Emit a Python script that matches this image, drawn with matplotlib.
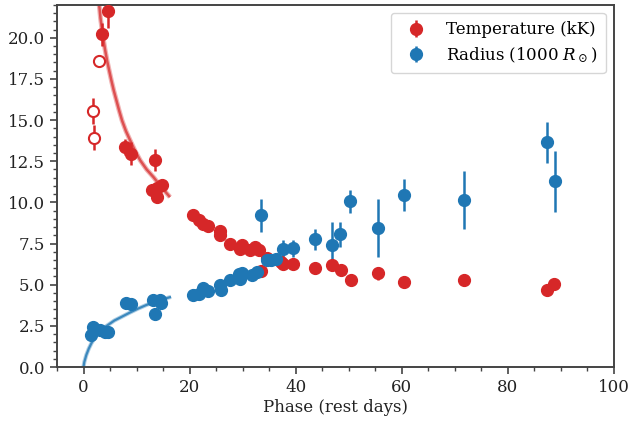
import matplotlib
matplotlib.use("Agg")
import matplotlib.pyplot as plt
from matplotlib.ticker import MultipleLocator, FormatStrFormatter

plt.rcParams['font.family'] = ['DejaVu Serif']
plt.rcParams['mathtext.fontset'] = 'dejavuserif'

RED = '#d62728'
BLUE = '#1f77b4'

# Temperature (kK), filled points
temp_t = [3.5, 4.6, 7.9, 8.9, 13.4, 13.0, 13.9, 13.85, 14.8, 20.6, 21.7, 22.6, 23.5,
          25.7, 25.8, 27.6, 29.5, 29.8, 31.4, 32.3, 33.1, 33.5, 34.6, 37.3, 37.6, 39.5,
          43.6, 46.9, 48.6, 50.5, 55.6, 60.4, 71.8, 87.4, 88.7]
temp_v = [20.2, 21.6, 13.35, 12.95, 12.55, 10.77, 10.85, 10.32, 11.03, 9.21, 8.95, 8.67, 8.55,
          8.26, 8.03, 7.45, 7.19, 7.39, 7.13, 7.29, 7.13, 5.82, 6.6, 6.38, 6.25, 6.24,
          6.04, 6.18, 5.92, 5.27, 5.68, 5.19, 5.27, 4.67, 5.03]
temp_e = [0.7, 1.0, 0.5, 0.7, 0.67, 0.15, 0.15, 0.15, 0.15, 0.15, 0.15, 0.15, 0.15,
          0.15, 0.15, 0.15, 0.15, 0.35, 0.15, 0.3, 0.15, 0.15, 0.15, 0.15, 0.15, 0.15,
          0.15, 0.35, 0.15, 0.15, 0.4, 0.15, 0.3, 0.15, 0.15]

# Temperature, open points
temp_open_t = [1.75, 1.97, 3.0]
temp_open_v = [15.56, 13.94, 18.59]
temp_open_e = [0.8, 0.75, 0.2]

# Radius (1000 Rsun)
rad_t = [1.5, 1.85, 3.1, 4.0, 4.6, 8.0, 9.0, 13.1, 13.4, 14.4, 14.7, 20.7, 21.7, 22.6, 23.5,
         25.7, 26.0, 27.6, 29.4, 29.5, 29.8, 31.7, 32.7, 33.4, 34.5, 35.4, 36.3, 37.6, 39.5,
         43.6, 46.9, 48.4, 50.3, 55.5, 60.4, 71.8, 87.4, 88.8]
rad_v = [1.94, 2.44, 2.24, 2.14, 2.14, 3.88, 3.84, 4.08, 3.22, 4.1, 3.9, 4.36, 4.42, 4.77, 4.62,
         4.97, 4.7, 5.27, 5.67, 5.35, 5.72, 5.58, 5.78, 9.21, 6.52, 6.52, 6.58, 7.19, 7.2,
         7.76, 7.4, 8.06, 10.08, 8.46, 10.44, 10.14, 13.64, 11.27]
rad_e = [0.15, 0.15, 0.15, 0.15, 0.15, 0.15, 0.15, 0.15, 0.15, 0.15, 0.15, 0.15, 0.15, 0.15, 0.15,
         0.15, 0.15, 0.15, 0.15, 0.35, 0.15, 0.15, 0.35, 1.0, 0.15, 0.15, 0.15, 0.5, 0.5,
         0.65, 1.4, 0.75, 0.7, 1.75, 0.95, 1.78, 1.25, 1.87]

# Early-time model curves
tfit_t = [2.87, 3.05, 3.2, 3.45, 3.7, 4.05, 4.45, 4.85, 5.26, 5.7, 6.2, 6.7, 7.27, 8.0,
          8.8, 9.7, 10.7, 11.9, 13.2, 14.7, 16.3]
tfit_v = [22.24, 21.7, 21.2, 20.6, 20.0, 19.3, 18.6, 18.0, 17.4, 16.8, 16.2, 15.6, 14.97, 14.33,
          13.76, 13.14, 12.55, 12.0, 11.53, 10.92, 10.32]
rfit_t = [0.0, 0.15, 0.53, 1.0, 1.47, 2.0, 2.7, 3.5, 4.6, 5.8, 7.2, 8.7, 10.3, 11.8, 13.4, 15.0, 16.5]
rfit_v = [0.0, 0.3, 0.73, 1.12, 1.43, 1.72, 2.04, 2.3, 2.55, 2.82, 3.05, 3.3, 3.55, 3.76, 3.96, 4.12, 4.26]

fig = plt.figure(figsize=(6.31, 4.22), dpi=100)
ax = fig.add_axes([0.0903, 0.1303, 0.8827, 0.8583])

# model curves (soft look)
ax.plot(tfit_t, tfit_v, color=RED, lw=3.5, alpha=0.35, solid_capstyle='butt', zorder=1)
ax.plot(tfit_t, tfit_v, color=RED, lw=1.8, alpha=0.7, solid_capstyle='butt', zorder=1)
ax.plot(rfit_t, rfit_v, color=BLUE, lw=3.0, alpha=0.35, solid_capstyle='butt', zorder=1)
ax.plot(rfit_t, rfit_v, color=BLUE, lw=1.6, alpha=0.8, solid_capstyle='butt', zorder=1)

ax.errorbar(temp_t, temp_v, yerr=temp_e, fmt='o', color=RED, ms=8.5, elinewidth=1.8,
            capsize=0, label='Temperature (kK)', zorder=3)
ax.errorbar(temp_open_t, temp_open_v, yerr=temp_open_e, fmt='o', color=RED, mfc='white',
            mec=RED, mew=1.5, ms=8, elinewidth=1.8, capsize=0, zorder=3)
ax.errorbar(rad_t, rad_v, yerr=rad_e, fmt='o', color=BLUE, ms=8.5, elinewidth=1.8,
            capsize=0, label='Radius (1000 $R_\\odot$)', zorder=3)

ax.set_xlim(-5, 100)
ax.set_ylim(0, 22)
ax.xaxis.set_major_locator(MultipleLocator(20))
ax.xaxis.set_minor_locator(MultipleLocator(5))
ax.yaxis.set_major_locator(MultipleLocator(2.5))
ax.yaxis.set_minor_locator(MultipleLocator(0.5))
ax.yaxis.set_major_formatter(FormatStrFormatter('%.1f'))

for s in ax.spines.values():
    s.set_color('#444444')
    s.set_linewidth(1.4)
ax.tick_params(which='major', direction='out', length=5, width=1.2, color='#444444',
               labelsize=12, labelcolor='#222222')
ax.tick_params(which='minor', direction='out', length=2.8, width=1.0, color='#444444')

ax.set_xlabel('Phase (rest days)', fontsize=12, color='#222222', labelpad=2)

leg = ax.legend(loc='upper right', fontsize=12, frameon=True, borderpad=0.5,
                handletextpad=0.8, labelspacing=0.4)
leg.get_frame().set_edgecolor('#cccccc')

fig.savefig('out.png', dpi=100)
